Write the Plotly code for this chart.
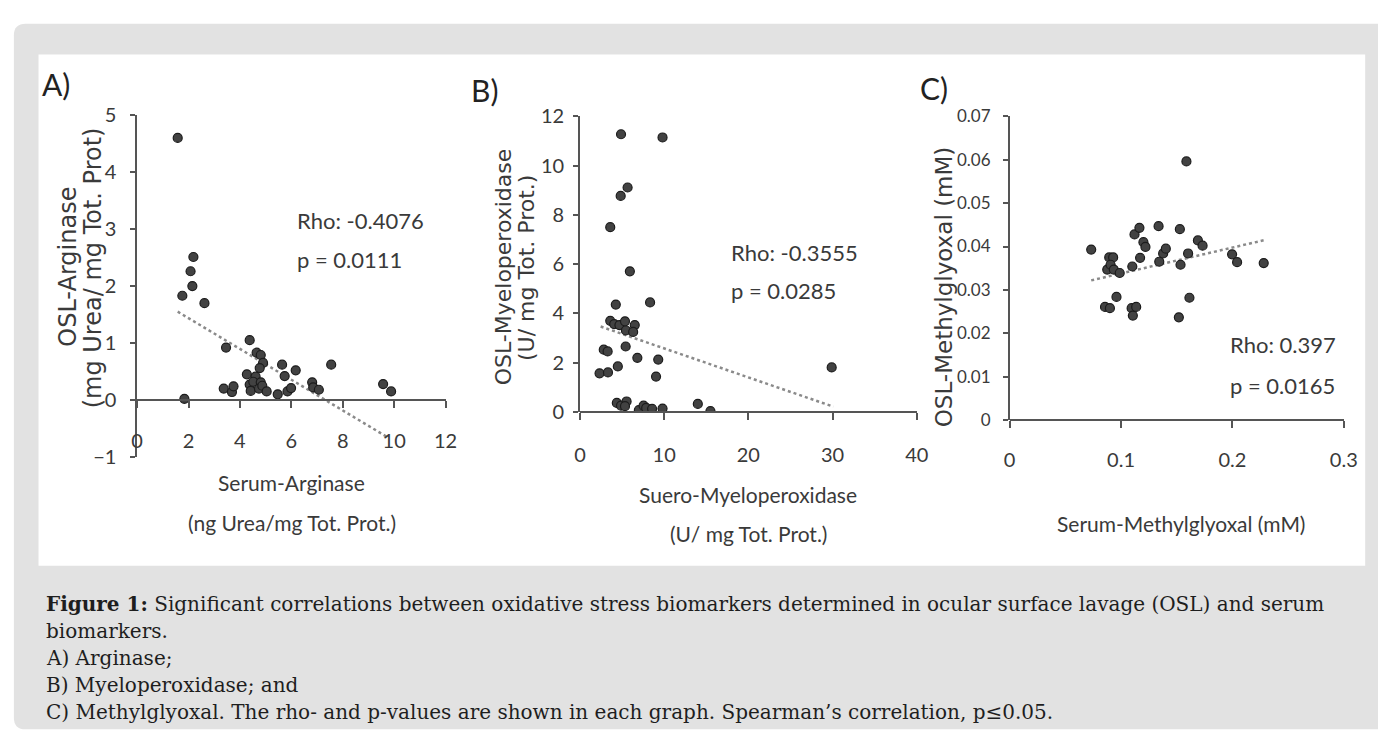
import plotly.graph_objects as go

# ---------------- data ----------------
# Panel A: Serum-Arginase vs OSL-Arginase
a_x = [1.58, 1.76, 1.84, 2.08, 2.15, 2.19, 2.62, 3.46, 3.37, 3.69, 3.75, 4.38, 4.27, 4.38, 4.42,
       4.65, 4.81, 4.90, 4.77, 4.61, 4.52, 4.81, 4.74, 4.87, 5.04, 5.47, 5.64, 5.74, 5.85, 5.99,
       6.17, 6.81, 6.85, 7.07, 7.55, 9.57, 9.88]
a_y = [4.60, 1.83, 0.02, 2.26, 2.00, 2.51, 1.70, 0.92, 0.20, 0.14, 0.24, 1.05, 0.45, 0.27, 0.16,
       0.83, 0.79, 0.65, 0.56, 0.41, 0.32, 0.31, 0.20, 0.25, 0.15, 0.10, 0.62, 0.42, 0.15, 0.21,
       0.52, 0.31, 0.22, 0.18, 0.62, 0.28, 0.15]
a_trend_x = [1.58, 9.73]
a_trend_y = [1.55, -0.65]

# Panel B: Suero-Myeloperoxidase vs OSL-Myeloperoxidase
b_x = [4.88, 9.81, 5.66, 4.84, 3.60, 5.93, 4.26, 8.33, 3.60, 4.07, 4.69, 5.35, 5.46, 6.51, 6.32,
       2.83, 3.29, 5.43, 6.82, 9.30, 4.50, 2.33, 3.33, 9.04, 29.9,
       4.38, 4.88, 5.54, 5.35, 7.00, 7.56, 7.87, 8.57, 9.81, 14.0, 15.5]
b_y = [11.27, 11.14, 9.11, 8.77, 7.50, 5.71, 4.36, 4.45, 3.70, 3.57, 3.53, 3.68, 3.31, 3.53, 3.25,
       2.53, 2.46, 2.66, 2.20, 2.13, 1.85, 1.57, 1.61, 1.44, 1.81,
       0.37, 0.26, 0.43, 0.24, 0.08, 0.26, 0.17, 0.13, 0.14, 0.33, 0.04]
b_trend_x = [2.46, 30.1]
b_trend_y = [3.47, 0.22]

# Panel C: Serum-Methylglyoxal vs OSL-Methylglyoxal
c_x = [0.0732, 0.0894, 0.0929, 0.0876, 0.0906, 0.0935, 0.0988, 0.0856, 0.0900, 0.0959, 0.1101,
       0.1121, 0.1165, 0.1171, 0.1201, 0.1219, 0.1095, 0.1106, 0.1136, 0.1337, 0.1343, 0.1378,
       0.1402, 0.1528, 0.1534, 0.1587, 0.1602, 0.1614, 0.1519, 0.1690, 0.1732, 0.1997, 0.2042,
       0.2281]
c_y = [0.0393, 0.0375, 0.0375, 0.0347, 0.0358, 0.0347, 0.0339, 0.0261, 0.0258, 0.0284, 0.0354,
       0.0428, 0.0443, 0.0374, 0.0410, 0.0399, 0.0258, 0.0241, 0.0261, 0.0447, 0.0365, 0.0384,
       0.0395, 0.0440, 0.0358, 0.0596, 0.0384, 0.0282, 0.0237, 0.0414, 0.0402, 0.0382, 0.0364,
       0.0362]
c_trend_x = [0.0732, 0.2292]
c_trend_y = [0.0322, 0.0415]

panel_labels = ["A)", "B)", "C)"]
y_titles = [["OSL-Arginase", "(mg Urea/ mg Tot. Prot)"],
            ["OSL-Myeloperoxidase", "(U/ mg Tot. Prot.)"],
            ["OSL-Methylglyoxal (mM)"]]
x_titles = [["Serum-Arginase", "(ng Urea/mg Tot. Prot.)"],
            ["Suero-Myeloperoxidase", "(U/ mg Tot. Prot.)"],
            ["Serum-Methylglyoxal (mM)"]]
stats = [["Rho: -0.4076", "p = 0.0111"],
         ["Rho: -0.3555", "p = 0.0285"],
         ["Rho: 0.397", "p = 0.0165"]]
caption_lines = [
    "<b>Figure 1:</b> Significant correlations between oxidative stress biomarkers determined in ocular surface lavage (OSL) and serum",
    "biomarkers.",
    "A) Arginase;",
    "B) Myeloperoxidase; and",
    "C) Methylglyoxal. The rho- and p-values are shown in each graph. Spearman\u2019s correlation, p\u22640.05.",
]

# ---------------- layout helpers ----------------
W, H = 1392, 748
def fx(px):
    return px / W
def fy(py):
    return 1 - py / H

NARROW = "Lato, Roboto, sans-serif"
WIDE = "DejaVu Sans, Verdana, sans-serif"
SERIF = "DejaVu Serif, Liberation Serif, serif"
TXT = "#3a3a3a"
AX = "#555555"

fig = go.Figure()

marker = dict(size=9, color="#424242", line=dict(color="#1c1c1c", width=1.2))
trend_line = dict(color="#8a8a8a", width=2.5, dash="dot")

series = [(a_x, a_y, a_trend_x, a_trend_y), (b_x, b_y, b_trend_x, b_trend_y),
          (c_x, c_y, c_trend_x, c_trend_y)]
for i, (sx, sy, tx, ty) in enumerate(series):
    xa = "x" if i == 0 else f"x{i+1}"
    ya = "y" if i == 0 else f"y{i+1}"
    fig.add_trace(go.Scatter(x=tx, y=ty, mode="lines", line=trend_line,
                             xaxis=xa, yaxis=ya, showlegend=False, hoverinfo="skip"))
    fig.add_trace(go.Scatter(x=sx, y=sy, mode="markers", marker=marker,
                             xaxis=xa, yaxis=ya, showlegend=False))

# axis geometry (pixel positions of plot frames)
frames = [
    dict(x0=133, x1=446, y0=458.7, y1=105.5, xr=[0, 12], xd=2, yr=[-1, 5], yd=1,
         ystand=10, xstand=16, yfs=20),
    dict(x0=582.3, x1=924, y0=412.3, y1=106.7, xr=[0, 40], xd=10, yr=[0, 12], yd=2,
         ystand=5, xstand=18, yfs=20),
    dict(x0=1018.3, x1=1357.3, y0=420.7, y1=106.7, xr=[0, 0.3], xd=0.1, yr=[0, 0.07], yd=0.01,
         ystand=9, xstand=15, yfs=17),
]

lay = {}
for i, f in enumerate(frames):
    sfx = "" if i == 0 else str(i + 1)
    ydom = [fy(f["y0"]), fy(f["y1"])]
    ymin, ymax = f["yr"]
    pos = ydom[0] + (0 - ymin) / (ymax - ymin) * (ydom[1] - ydom[0])
    lay["xaxis" + sfx] = dict(
        domain=[fx(f["x0"]), fx(f["x1"])], range=f["xr"], dtick=f["xd"], tick0=0,
        anchor="free", position=pos, showline=True, linecolor=AX, linewidth=1.5,
        ticks="outside", ticklen=7, tickcolor=AX, tickwidth=1.5, showgrid=False,
        zeroline=False, tickfont=dict(family=NARROW, size=20, color=TXT),
        ticklabelstandoff=f["xstand"],
    )
    lay["yaxis" + sfx] = dict(
        domain=ydom, range=f["yr"], dtick=f["yd"], tick0=0,
        anchor="x" + sfx, showline=True, linecolor=AX, linewidth=1.5,
        ticks="outside", ticklen=5, tickcolor=AX, tickwidth=1.5, showgrid=False,
        zeroline=False, tickfont=dict(family=NARROW, size=f["yfs"], color=TXT),
        ticklabelstandoff=f["ystand"],
    )

annotations = []
def ann(text, px, py, size, family, xanchor="center", yanchor="middle", angle=0, color=TXT):
    annotations.append(dict(text=text, x=fx(px), y=fy(py), xref="paper", yref="paper",
                            xanchor=xanchor, yanchor=yanchor, showarrow=False, align="left",
                            textangle=angle, font=dict(family=family, size=size, color=color)))

# panel labels
for lbl, (px, py) in zip(panel_labels, [(51, 73), (485, 80), (942, 77)]):
    ann(lbl, px, py, 30, NARROW, color="#222")

# y titles (rotated)
ytitle_pos = [[(62, 262), (88, 263)], [(505, 262), (528, 263)], [(952, 283)]]
ytitle_size = [24, 22, 23]
for lines, poss, sz in zip(y_titles, ytitle_pos, ytitle_size):
    for t, (px, py) in zip(lines, poss):
        ann(t, px, py, sz, WIDE, angle=-90)

# x titles
xtitle_pos = [[(290, 485), (290, 526)], [(753, 497), (753, 538)], [(1192, 527)]]
for lines, poss in zip(x_titles, xtitle_pos):
    for t, (px, py) in zip(lines, poss):
        ann(t, px, py, 21, NARROW)

# statistics text
stat_pos = [[(293, 214), (293, 255)], [(734, 247), (734, 287)], [(1240, 343), (1240, 385)]]
for lines, poss in zip(stats, stat_pos):
    for t, (px, py) in zip(lines, poss):
        ann(t, px, py, 22, NARROW, xanchor="left")

# caption, one annotation per line
for k, line in enumerate(caption_lines):
    ann(line, 39, 611 + 27.8 * k, 20, SERIF, xanchor="left", color="#1e1e1e")

# background shapes: grey rounded box and white chart area
r = 12
gx0, gy0, gx1, gy1 = 8, 11, 1392, 740
path = (f"M {fx(gx0 + r)},{fy(gy0)} L {fx(gx1)},{fy(gy0)} L {fx(gx1)},{fy(gy1)} "
        f"L {fx(gx0 + r)},{fy(gy1)} Q {fx(gx0)},{fy(gy1)} {fx(gx0)},{fy(gy1 - r)} "
        f"L {fx(gx0)},{fy(gy0 + r)} Q {fx(gx0)},{fy(gy0)} {fx(gx0 + r)},{fy(gy0)} Z")
shapes = [
    dict(type="path", path=path, xref="paper", yref="paper", fillcolor="#e2e2e2",
         line=dict(width=0), layer="below"),
    dict(type="rect", x0=fx(33), x1=fx(1379), y0=fy(571), y1=fy(43), xref="paper", yref="paper",
         fillcolor="white", line=dict(width=0), layer="below"),
]

fig.update_layout(
    width=W, height=H, margin=dict(l=0, r=0, t=0, b=0),
    paper_bgcolor="white", plot_bgcolor="rgba(0,0,0,0)",
    annotations=annotations, shapes=shapes, showlegend=False,
    **lay,
)

fig.write_html("out.html", config={"displayModeBar": False},
               post_script="document.body.style.margin='0';document.body.style.overflow='hidden';")
